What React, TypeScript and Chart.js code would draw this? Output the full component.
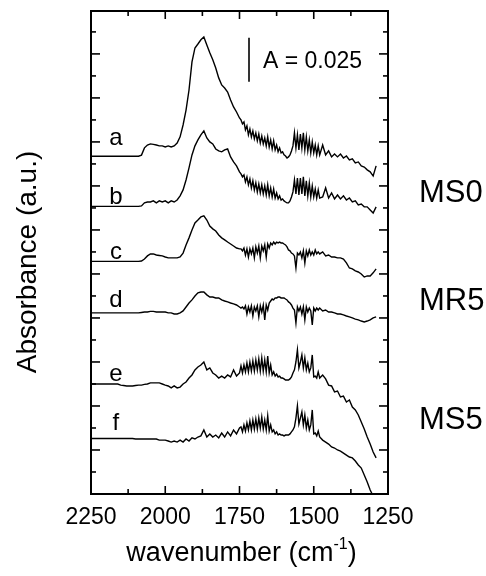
import { useEffect, useRef } from 'react';
import { Chart, registerables } from 'chart.js';
Chart.register(...registerables);

// wavenumber axis (cm-1), shared by all spectra (finer sampling in the band region)
const wavenumbers = [
  2250, 2240, 2230, 2220, 2210, 2200, 2190, 2180, 2170, 2160,
  2150, 2140, 2130, 2120, 2110, 2100, 2090,
  2080, 2070, 2060, 2050, 2040, 2030, 2020, 2010, 2000, 1990,
  1980, 1970, 1960, 1950, 1940, 1930, 1920, 1910, 1900, 1890,
  1880, 1870, 1860, 1850, 1840, 1830, 1820, 1810, 1800, 1790,
  1780, 1770, 1760, 1750,
  1745, 1740, 1735, 1730, 1725, 1720, 1715, 1710, 1705, 1700,
  1695, 1690, 1685, 1680, 1675, 1670, 1665, 1660, 1655, 1650,
  1645, 1640, 1635, 1630, 1625, 1620, 1615, 1610, 1605, 1600,
  1595, 1590, 1585, 1580, 1575, 1570, 1565, 1560, 1555, 1550,
  1545, 1540, 1535, 1530, 1525, 1520, 1515, 1510, 1505, 1500,
  1495, 1490, 1485, 1480,
  1470, 1460, 1450, 1440, 1430, 1420, 1410, 1400, 1390,
  1380, 1370, 1360, 1350, 1340, 1330, 1320, 1310, 1300, 1290,
];

// stacked absorbance, in a.u. (1 unit = 0.0125)
const specA = [
  15.35, 15.35, 15.35, 15.35, 15.35, 15.35, 15.35, 15.35, 15.35, 15.35,
  15.35, 15.35, 15.35, 15.35, 15.35, 15.35, 15.35,
  15.4, 15.73, 15.86, 15.91, 15.89, 15.86, 15.82, 15.82, 15.77, 15.82,
  15.77, 15.82, 15.95, 16.23, 16.77, 17.45, 18.36, 19.64, 20.27, 20.45,
  20.64, 20.77, 20.41, 20.05, 19.73, 19.36, 18.91, 18.59, 18.45, 18.27,
  17.91, 17.59, 17.36, 17.09,
  17.0, 16.82, 16.91, 16.55, 16.73, 16.32, 16.59, 16.23, 16.5, 16.14,
  16.41, 16.05, 16.36, 15.95, 16.27, 15.91, 16.18, 15.82, 16.23, 15.77,
  16.09, 15.68, 16.05, 15.64, 15.86, 15.55, 15.73, 15.5, 15.55, 15.41,
  15.36, 15.27, 15.32, 15.41, 15.59, 15.82, 16.41, 15.73, 16.32, 15.64,
  16.36, 15.73, 16.41, 15.64, 16.23, 15.59, 16.09, 15.5, 16.0, 15.5,
  15.86, 15.41, 15.82, 15.41,
  15.86, 15.41, 15.59, 15.32, 15.45, 15.32, 15.45, 15.27, 15.36,
  15.18, 15.23, 15.05, 15.09, 14.91, 14.86, 14.73, 14.64, 14.45, 14.91,
];
const specB = [
  13.07, 13.07, 13.07, 13.07, 13.07, 13.07, 13.07, 13.07, 13.07, 13.07,
  13.07, 13.07, 13.07, 13.07, 13.07, 13.07, 13.07,
  13.09, 13.23, 13.27, 13.27, 13.32, 13.23, 13.32, 13.27, 13.32, 13.23,
  13.32, 13.27, 13.36, 13.55, 13.82, 14.27, 14.82, 15.41, 15.82, 16.09,
  16.32, 16.5, 16.18, 16.0, 15.91, 15.68, 15.59, 15.55, 15.64, 15.68,
  15.32, 15.09, 14.91, 14.64,
  14.55, 14.41, 14.5, 14.18, 14.41, 14.05, 14.32, 13.91, 14.23, 13.82,
  14.14, 13.73, 14.09, 13.68, 14.05, 13.64, 14.0, 13.59, 14.05, 13.55,
  13.91, 13.5, 13.86, 13.45, 13.68, 13.41, 13.55, 13.36, 13.41, 13.32,
  13.27, 13.23, 13.23, 13.32, 13.5, 13.73, 14.27, 13.64, 14.36, 13.59,
  14.36, 13.64, 14.41, 13.55, 14.23, 13.55, 14.14, 13.5, 14.0, 13.5,
  13.86, 13.45, 13.82, 13.45,
  13.5, 13.91, 13.45, 13.68, 13.41, 13.59, 13.41, 13.55, 13.36,
  13.45, 13.27, 13.32, 13.14, 13.18, 13.05, 13.05, 12.91, 12.77, 13.05,
];
const specC = [
  10.57, 10.57, 10.57, 10.57, 10.57, 10.57, 10.57, 10.57, 10.57, 10.57,
  10.57, 10.57, 10.57, 10.57, 10.57, 10.57, 10.57,
  10.59, 10.68, 10.82, 10.91, 10.91, 10.86, 10.84, 10.82, 10.77, 10.73,
  10.73, 10.73, 10.73, 10.77, 10.95, 11.32, 11.64, 12.0, 12.32, 12.45,
  12.59, 12.64, 12.45, 12.18, 12.05, 11.95, 11.77, 11.64, 11.55, 11.45,
  11.36, 11.27, 11.18, 11.14,
  11.14, 11.05, 11.18, 10.86, 11.14, 10.77, 11.14, 10.91, 11.18, 10.73,
  11.23, 10.95, 11.27, 10.73, 11.27, 11.05, 11.32, 10.77, 11.36, 11.18,
  11.41, 11.32, 11.45, 11.36, 11.45, 11.41, 11.45, 11.41, 11.41, 11.36,
  11.32, 11.23, 11.09, 11.05, 10.95, 10.91, 10.82, 10.27, 10.95, 10.86,
  11.0, 10.73, 11.05, 10.5, 11.05, 10.82, 11.09, 10.86, 11.0, 10.86,
  11.09, 10.91, 11.0, 10.91,
  11.0, 10.82, 10.86, 10.77, 10.77, 10.73, 10.73, 10.68, 10.5,
  10.27, 10.23, 10.14, 10.09, 10.0, 9.86, 9.91, 9.91, 10.05, 10.23,
];
const specD = [
  8.23, 8.23, 8.23, 8.23, 8.23, 8.23, 8.23, 8.23, 8.23, 8.23,
  8.23, 8.23, 8.23, 8.23, 8.23, 8.23, 8.23,
  8.25, 8.27, 8.27, 8.3, 8.3, 8.27, 8.27, 8.27, 8.27, 8.23,
  8.23, 8.18, 8.18, 8.23, 8.32, 8.5, 8.68, 8.82, 9.0, 9.14,
  9.18, 9.18, 9.05, 8.95, 8.95, 8.91, 8.91, 8.82, 8.77, 8.73,
  8.68, 8.64, 8.59, 8.5,
  8.45, 8.5, 8.41, 8.55, 8.18, 8.5, 8.27, 8.55, 8.09, 8.5,
  8.32, 8.55, 8.05, 8.55, 8.27, 8.59, 7.91, 8.59, 8.36, 8.68,
  8.77, 8.86, 8.82, 8.91, 8.91, 8.95, 8.95, 8.91, 8.91, 8.91,
  8.86, 8.82, 8.73, 8.68, 8.59, 8.45, 8.36, 7.77, 8.5, 8.32,
  8.5, 8.18, 8.5, 7.91, 8.5, 8.27, 8.45, 8.32, 7.68, 8.45,
  8.32, 8.45, 8.36, 8.45,
  8.32, 8.36, 8.27, 8.27, 8.23, 8.18, 8.18, 8.14, 8.09,
  8.05, 8.0, 7.95, 7.91, 7.86, 7.82, 7.86, 7.91, 8.0, 8.05,
];
const specE = [
  5.0, 5.0, 5.0, 5.0, 5.0, 5.0, 5.0, 5.0, 5.0, 5.0,
  4.95, 4.93, 4.91, 4.91, 4.91, 4.93, 4.95,
  4.95, 4.98, 5.0, 5.05, 5.05, 5.05, 5.05, 5.0, 4.95, 4.91,
  4.82, 4.91, 4.82, 4.86, 5.0, 5.09, 5.27, 5.41, 5.64, 5.77,
  5.86, 6.0, 5.64, 5.73, 5.5, 5.41, 5.27, 5.36, 5.27, 5.41,
  5.32, 5.64, 5.36, 5.5,
  5.82, 5.5, 5.86, 5.55, 5.95, 5.55, 6.0, 5.59, 6.05, 5.59,
  6.09, 5.64, 6.14, 5.59, 6.18, 5.59, 6.09, 5.55, 6.27, 5.5,
  5.86, 5.41, 5.55, 5.36, 5.45, 5.32, 5.36, 5.27, 5.27, 5.23,
  5.18, 5.18, 5.18, 5.23, 5.32, 5.5, 5.64, 6.0, 6.55, 5.73,
  6.0, 6.32, 5.73, 6.18, 5.64, 5.95, 5.55, 5.73, 6.32, 5.32,
  5.36, 5.27, 5.55, 5.27,
  5.41, 5.23, 4.95, 4.91, 4.64, 4.68, 4.41, 4.45, 4.18,
  4.27, 3.95, 3.82, 3.59, 3.27, 2.95, 2.59, 2.27, 1.91, 1.64,
];
const specF = [
  2.52, 2.52, 2.52, 2.52, 2.52, 2.52, 2.52, 2.52, 2.52, 2.52,
  2.52, 2.52, 2.52, 2.52, 2.52,
  2.5, 2.5, 2.5, 2.5, 2.5, 2.5, 2.5, 2.5,
  2.45, 2.45, 2.45, 2.41, 2.36, 2.41, 2.36, 2.45, 2.36, 2.5,
  2.41, 2.55, 2.5, 2.59, 2.64, 2.91, 2.59, 2.73, 2.59, 2.68,
  2.55, 2.77, 2.59, 2.82, 2.64, 2.91, 2.73, 3.0,
  3.05, 2.82, 3.14, 2.86, 3.23, 2.91, 3.32, 2.91, 3.36, 2.95,
  3.41, 2.95, 3.45, 3.0, 3.5, 2.95, 3.36, 2.91, 3.55, 2.86,
  3.14, 2.82, 2.91, 2.73, 2.82, 2.68, 2.73, 2.68, 2.68, 2.64,
  2.68, 2.68, 2.68, 2.73, 2.82, 2.91, 3.05, 3.45, 4.0, 3.18,
  3.45, 3.73, 3.14, 3.59, 3.0, 3.36, 2.91, 3.14, 3.82, 2.73,
  2.77, 2.64, 2.86, 2.59,
  2.45, 2.36, 2.27, 2.14, 2.09, 2.0, 1.95, 1.86, 1.77,
  1.68, 1.64, 1.5, 1.32, 1.18, 0.86, 0.55, 0.18, -0.09, null,
];

const spectra = [specA, specB, specC, specD, specE, specF];
const curveLetters = ['a', 'b', 'c', 'd', 'e', 'f'];
const letterY = [16.14, 13.5, 11.0, 8.82, 5.45, 3.23];
const letterX = 2166;
const groupNames = ['MS0', 'MR5', 'MS5'];
const groupY = [13.68, 8.77, 3.36];

const xMajorTicks = [2250, 2000, 1750, 1500, 1250];
const xMinorTicks = [2125, 1875, 1625, 1375];
const yTicks = [1, 2, 3, 4, 5, 6, 7, 8, 9, 10, 11, 12, 13, 14, 15, 16, 17, 18, 19, 20, 21];
const xMin = 1250;
const xMax = 2250;
const yMin = 0;
const yMax = 21.95;

const scaleBarX = 1718;
const scaleBarY = [18.73, 20.73];
const scaleBarText = 'A = 0.025';
const scaleBarTextX = 1671;
const scaleBarTextY = 19.66;

const FONT = '"Liberation Sans", Arial, Helvetica, sans-serif';

const decor = {
  id: 'decor',
  afterDatasetsDraw(chart: any) {
    const { ctx, chartArea: ca, scales } = chart;
    const xs = scales.x;
    const ys = scales.y;
    ctx.save();
    ctx.strokeStyle = '#000';
    ctx.fillStyle = '#000';
    const line = (x1: number, y1: number, x2: number, y2: number) => {
      ctx.beginPath();
      ctx.moveTo(x1, y1);
      ctx.lineTo(x2, y2);
      ctx.stroke();
    };
    // frame
    ctx.lineWidth = 2;
    ctx.strokeRect(ca.left, ca.top, ca.right - ca.left, ca.bottom - ca.top);
    // x ticks (inward, top and bottom)
    ctx.lineWidth = 1.6;
    xMajorTicks.forEach((v) => {
      const px = xs.getPixelForValue(v);
      line(px, ca.bottom, px, ca.bottom - 8);
      line(px, ca.top, px, ca.top + 8);
    });
    xMinorTicks.forEach((v) => {
      const px = xs.getPixelForValue(v);
      line(px, ca.bottom, px, ca.bottom - 5);
      line(px, ca.top, px, ca.top + 5);
    });
    yTicks.forEach((v) => {
      const py = ys.getPixelForValue(v);
      const len = v % 2 === 0 ? 9 : 5;
      line(ca.left, py, ca.left + len, py);
      line(ca.right, py, ca.right - len, py);
    });
    // x tick labels
    ctx.font = `23px ${FONT}`;
    ctx.textAlign = 'center';
    ctx.textBaseline = 'middle';
    xMajorTicks.forEach((v) => {
      ctx.fillText(String(v), xs.getPixelForValue(v), ca.bottom + 24);
    });
    // curve letters
    ctx.font = `24px ${FONT}`;
    curveLetters.forEach((t, i) => {
      ctx.fillText(t, xs.getPixelForValue(letterX), ys.getPixelForValue(letterY[i]));
    });
    // scale bar
    ctx.lineWidth = 1.6;
    const bx = xs.getPixelForValue(scaleBarX);
    line(bx, ys.getPixelForValue(scaleBarY[0]), bx, ys.getPixelForValue(scaleBarY[1]));
    ctx.textAlign = 'left';
    ctx.font = `23px ${FONT}`;
    ctx.fillText(scaleBarText, xs.getPixelForValue(scaleBarTextX), ys.getPixelForValue(scaleBarTextY));
    // group names on the right
    ctx.font = `31px ${FONT}`;
    groupNames.forEach((t, i) => {
      ctx.fillText(t, ca.right + 31, ys.getPixelForValue(groupY[i]));
    });
    // x title with superscript
    const cx = (ca.left + ca.right) / 2 + 2;
    const ty = ca.bottom + 58;
    ctx.font = `27px ${FONT}`;
    const p1 = 'wavenumber (cm';
    const p3 = ')';
    const w1 = ctx.measureText(p1).width;
    const w3 = ctx.measureText(p3).width;
    ctx.font = `16px ${FONT}`;
    const p2 = '-1';
    const w2 = ctx.measureText(p2).width;
    const start = cx - (w1 + w2 + w3) / 2;
    ctx.textBaseline = 'alphabetic';
    ctx.font = `27px ${FONT}`;
    ctx.fillText(p1, start, ty + 9);
    ctx.font = `16px ${FONT}`;
    ctx.fillText(p2, start + w1, ty - 3);
    ctx.font = `27px ${FONT}`;
    ctx.fillText(p3, start + w1 + w2, ty + 9);
    // y title
    ctx.save();
    ctx.translate(28, 262);
    ctx.rotate(-Math.PI / 2);
    ctx.textAlign = 'center';
    ctx.textBaseline = 'middle';
    ctx.font = `28px ${FONT}`;
    ctx.fillText('Absorbance (a.u.)', 0, 0);
    ctx.restore();
    ctx.restore();
  },
};

export default function App() {
  const ref = useRef<HTMLCanvasElement>(null);
  useEffect(() => {
    const chart = new Chart(ref.current as HTMLCanvasElement, {
      type: 'line',
      data: {
        datasets: spectra.map((s, i) => ({
          label: curveLetters[i],
          data: wavenumbers.map((w, j) => ({ x: w, y: s[j] })),
          borderColor: '#000',
          borderWidth: 1.4,
          pointRadius: 0,
          tension: 0,
          fill: false,
        })),
      } as any,
      options: {
        responsive: false,
        maintainAspectRatio: false,
        animation: false,
        devicePixelRatio: 1,
        events: [],
        layout: { padding: { left: 91, right: 98, top: 11, bottom: 82 } },
        scales: {
          x: { type: 'linear', reverse: true, min: xMin, max: xMax, display: false },
          y: { type: 'linear', min: yMin, max: yMax, display: false },
        },
        plugins: { legend: { display: false }, tooltip: { enabled: false } },
      },
      plugins: [decor],
    });
    return () => chart.destroy();
  }, []);
  return (
    <div style={{ position: 'fixed', left: 0, top: 0, width: 486, height: 576, background: '#fff' }}>
      <canvas ref={ref} width={486} height={576} style={{ display: 'block', width: 486, height: 576 }} />
    </div>
  );
}
